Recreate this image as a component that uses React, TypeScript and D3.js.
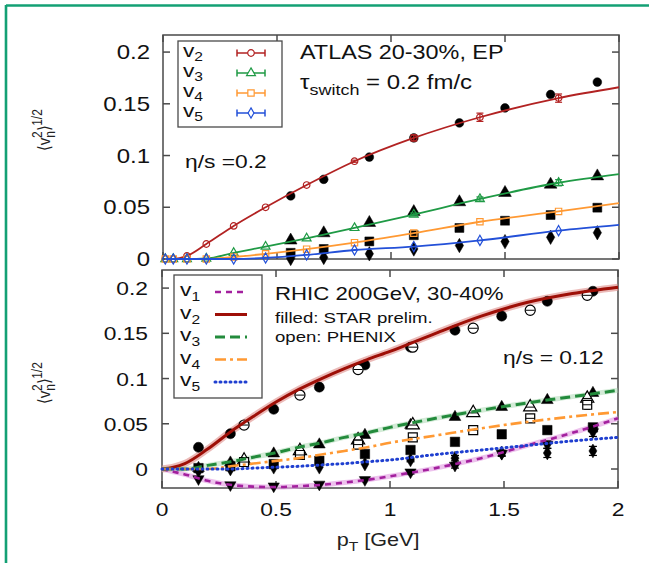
import React from 'react';
import * as d3 from 'd3';

// ---------- ticks ----------
const xTicks = [0, 0.5, 1, 1.5, 2];
const xTickLabels = ['0', '0.5', '1', '1.5', '2'];
const yTicks = [0, 0.05, 0.1, 0.15, 0.2];
const yTickLabels = ['0', '0.05', '0.1', '0.15', '0.2'];

// ---------- top panel: hydro (ATLAS comparison) ----------
const hydroPt = [0.01, 0.045, 0.105, 0.19, 0.31, 0.45, 0.63, 0.84, 1.10, 1.39, 1.735, 2.0];
const hydroV2 = [0, 0, 0.003, 0.0145, 0.032, 0.050, 0.0715, 0.0945, 0.117, 0.137, 0.1555, 0.166];
const hydroV3 = [0, 0, 0, 0.0005, 0.006, 0.012, 0.020, 0.030, 0.043, 0.058, 0.0737, 0.082];
const hydroV4 = [0, 0, 0, 0, 0.002, 0.005, 0.0095, 0.0158, 0.025, 0.036, 0.046, 0.054];
const hydroV5 = [0, 0, 0, 0, 0, 0.001, 0.004, 0.0087, 0.012, 0.018, 0.0274, 0.033];
const hydroErrV2 = [0, 0, 0, 0, 0, 0, 0, 0.001, 0.003, 0.004, 0.004, 0];
const hydroErrV3 = [0, 0, 0, 0, 0, 0, 0, 0, 0.0015, 0.002, 0.003, 0];

// ATLAS data (filled black)
const atlasPt = [0.56, 0.705, 0.905, 1.10, 1.30, 1.50, 1.70, 1.905];
const atlasV2 = [0.061, 0.077, 0.0985, 0.117, 0.1315, 0.146, 0.159, 0.171];
const atlasV3 = [0.018, 0.025, 0.035, 0.0455, 0.055, 0.064, 0.072, 0.080];
const atlasV4 = [0.006, 0.0097, 0.017, 0.023, 0.030, 0.037, 0.0425, 0.0496];
const atlasV5 = [0.0005, 0.0015, 0.005, 0.0097, 0.013, 0.0168, 0.021, 0.0254];

// ---------- bottom panel: hydro curves (RHIC) ----------
const curvePt = [0, 0.05, 0.1, 0.2, 0.3, 0.4, 0.5, 0.6, 0.7, 0.8, 0.9, 1.0, 1.2, 1.4, 1.6, 1.8, 2.0];
const curveV1 = [0, -0.003, -0.006, -0.013, -0.0175, -0.0195, -0.020, -0.019, -0.0175, -0.015, -0.012, -0.008, 0.001, 0.012, 0.026, 0.040, 0.056];
const curveV2 = [0, 0.002, 0.006, 0.022, 0.041, 0.058, 0.074, 0.088, 0.100, 0.111, 0.121, 0.130, 0.150, 0.169, 0.184, 0.194, 0.201];
const curveV3 = [0, 0, 0, 0.004, 0.008, 0.013, 0.018, 0.024, 0.029, 0.035, 0.040, 0.046, 0.056, 0.065, 0.073, 0.080, 0.087];
const curveV4 = [0, 0, 0, 0, 0.003, 0.006, 0.009, 0.012, 0.016, 0.020, 0.024, 0.029, 0.037, 0.045, 0.052, 0.058, 0.063];
const curveV5 = [0, 0, 0, 0, 0, 0.001, 0.002, 0.003, 0.0045, 0.006, 0.008, 0.010, 0.016, 0.021, 0.026, 0.031, 0.035];

// STAR prelim. (filled)
const starPt = [0.16, 0.30, 0.49, 0.69, 0.89, 1.09, 1.285, 1.49, 1.69, 1.89];
const starV1 = [-0.011, -0.0177, -0.019, -0.017, -0.012, -0.0035, 0.004, 0.017, 0.027, 0.041];
const starV2 = [0.024, 0.039, 0.066, 0.0905, 0.115, 0.1347, 0.1534, 0.169, 0.1854, 0.1965];
const starV3 = [0.001, 0.007, 0.017, 0.027, 0.0375, 0.0486, 0.0574, 0.0684, 0.0761, 0.0839];
const starV4 = [0.001, 0.003, 0.0055, 0.009, 0.0166, 0.021, 0.030, 0.0384, 0.043, 0.046];
const starV5 = [-0.002, 0.0, 0.002, 0.002, 0.0055, 0.010, 0.012, 0.0177, 0.0177, 0.020];
const starErrV1 = [0, 0, 0, 0, 0, 0.002, 0.003, 0.003, 0.004, 0.005];
const starErrV5 = [0, 0, 0, 0, 0, 0.002, 0.003, 0.003, 0.005, 0.005];

// PHENIX (open)
const phenixPt = [0.36, 0.605, 0.86, 1.10, 1.365, 1.615, 1.865];
const phenixV2 = [0.0486, 0.0817, 0.110, 0.1347, 0.1556, 0.1755, 0.192];
const phenixV3 = [0.0095, 0.020, 0.032, 0.0486, 0.062, 0.0684, 0.078];
const phenixV4 = [0.0077, 0.0155, 0.027, 0.035, 0.043, 0.056, 0.071];
const phenixErrV4 = [0.001, 0.002, 0.002, 0.002, 0.003, 0.004, 0.005];

const topLegend = ['2', '3', '4', '5'];
const botLegend = ['1', '2', '3', '4', '5'];

const SX = 1.2;
const FONT = 'Liberation Sans, Arial, Helvetica, sans-serif';
const AXC = '#4a4a4a';

function T({ x, y, size, anchor = 'start', children, fill = '#111' }: any) {
  return (
    <text transform={`translate(${x},${y}) scale(${SX},1)`} fontSize={size} textAnchor={anchor}
      fontFamily={FONT} fill={fill}>{children}</text>
  );
}

function sym(type: string, size: number) {
  const map: any = {
    circle: d3.symbolCircle, triangle: d3.symbolTriangle, square: d3.symbolSquare,
    diamond: d3.symbolDiamond, itri: d3.symbolTriangle,
  };
  return d3.symbol().type(map[type]).size(size)() as string;
}

function Mark({ type, x, y, size, fill, stroke, sw = 1.2, bar = false }: any) {
  const rot = type === 'itri' ? 180 : 0;
  const half = Math.sqrt(size) / 2;
  return (
    <g transform={`translate(${x},${y})`}>
      <path d={sym(type, size)} transform={`rotate(${rot})`} fill={fill} stroke={stroke} strokeWidth={sw} />
      {bar && <line x1={-half} x2={half} y1={0} y2={0} stroke={stroke} strokeWidth={1} />}
    </g>
  );
}

function ErrBar({ x, y0, y1, color, w = 3.5, sw = 1.2 }: any) {
  return (
    <g stroke={color} strokeWidth={sw}>
      <line x1={x} x2={x} y1={y0} y2={y1} />
      <line x1={x - w} x2={x + w} y1={y0} y2={y0} />
      <line x1={x - w} x2={x + w} y1={y1} y2={y1} />
    </g>
  );
}

function Frame({ x0, x1, y0, y1, xs, ys }: any) {
  const tl = 7;
  return (
    <g stroke={AXC} strokeWidth={1.5} fill="none">
      <rect x={x0} y={y1} width={x1 - x0} height={y0 - y1} />
      {xTicks.map((t, i) => (
        <g key={'x' + i}>
          <line x1={xs(t)} x2={xs(t)} y1={y0} y2={y0 - tl} />
          <line x1={xs(t)} x2={xs(t)} y1={y1} y2={y1 + tl} />
        </g>
      ))}
      {yTicks.map((t, i) => (
        <g key={'y' + i}>
          <line x1={x0} x2={x0 + tl} y1={ys(t)} y2={ys(t)} />
          <line x1={x1} x2={x1 - tl} y1={ys(t)} y2={ys(t)} />
        </g>
      ))}
    </g>
  );
}

function YTitle({ cx, cy }: any) {
  return (
    <text transform={`translate(${cx},${cy}) rotate(-90) scale(1,1.15)`} textAnchor="middle"
      fontFamily={FONT} fontSize={15} fill="#222">
      <tspan>⟨v</tspan>
      <tspan fontSize={12} dy={4}>n</tspan>
      <tspan fontSize={12} dy={-11} dx={-7}>2</tspan>
      <tspan dy={7}>⟩</tspan>
      <tspan fontSize={12} dy={-7}>1/2</tspan>
    </text>
  );
}

export default function App() {
  // top panel scales
  const xt = d3.scaleLinear().domain([0, 2]).range([163, 619]);
  const yt = d3.scaleLinear().domain([0, 0.2165]).range([259, 35]);
  // bottom panel scales
  const xb = d3.scaleLinear().domain([0, 2]).range([162, 618]);
  const yb = d3.scaleLinear().domain([-0.021, 0.22]).range([488, 270]);

  const lineT = (vals: number[]) =>
    d3.line<number>().x((_, i) => xt(hydroPt[i])).y((v) => yt(v)).curve(d3.curveMonotoneX)(vals) as string;
  const lineB = (vals: number[]) =>
    d3.line<number>().x((_, i) => xb(curvePt[i])).y((v) => yb(v)).curve(d3.curveMonotoneX)(vals) as string;

  const hydro = [
    { v: hydroV2, c: '#b22222', t: 'circle', s: 34, err: hydroErrV2 },
    { v: hydroV3, c: '#1f9a45', t: 'triangle', s: 34, err: hydroErrV3 },
    { v: hydroV4, c: '#ff9933', t: 'square', s: 40, err: null },
    { v: hydroV5, c: '#2350d8', t: 'diamond', s: 30, err: null },
  ];
  const atlas = [
    { v: atlasV2, t: 'circle', s: 60 },
    { v: atlasV3, t: 'triangle', s: 70 },
    { v: atlasV4, t: 'square', s: 80 },
    { v: atlasV5, t: 'diamond', s: 60 },
  ];

  const curves = [
    { v: curveV1, c: '#a3209e', w: 2.6, dash: '6,5', band: '#e6a8e6', bw: 5, op: 0.7 },
    { v: curveV2, c: '#9e0f07', w: 3, dash: null, band: '#dd8c88', bw: 7, op: 0.6 },
    { v: curveV3, c: '#238b3c', w: 3, dash: '10,5', band: '#a8d8b0', bw: 5, op: 0.5 },
    { v: curveV4, c: '#ff9933', w: 2.6, dash: '11,4,3,4', band: null, bw: 0, op: 0 },
    { v: curveV5, c: '#1f3fd0', w: 3, dash: '1,4', band: null, bw: 0, op: 0 },
  ];

  return (
    <svg width={649} height={563} style={{ position: 'absolute', left: 0, top: 0, background: '#fff' }}>
      <rect x={0} y={0} width={649} height={563} fill="#fff" />
      {/* green slide frame */}
      <line x1={6} x2={649} y1={5.5} y2={5.5} stroke="#13a074" strokeWidth={2.6} />
      <line x1={6} x2={6} y1={5} y2={563} stroke="#13a074" strokeWidth={2.6} />

      {/* ======== TOP PANEL ======== */}
      <Frame x0={163} x1={619} y0={259} y1={35} xs={xt} ys={yt} />
      {yTicks.map((t, i) => (
        <T key={'ytl' + i} x={150} y={yt(t) + 7} size={20} anchor="end">{yTickLabels[i]}</T>
      ))}
      <YTitle cx={50} cy={130} />

      {/* ATLAS data */}
      {atlas.map((s, k) => s.v.map((v, i) => (
        <Mark key={`a${k}-${i}`} type={s.t} x={xt(atlasPt[i])} y={yt(v)} size={s.s} fill="#000" stroke="#000" sw={0.5} />
      )))}
      {/* hydro lines + open points */}
      {hydro.map((h, k) => (
        <g key={'h' + k}>
          <path d={lineT(h.v)} fill="none" stroke={h.c} strokeWidth={1.8} />
          {h.v.slice(0, hydroPt.length - 1).map((v, i) => (
            <g key={i}>
              {h.err && h.err[i] > 0 && (
                <ErrBar x={xt(hydroPt[i])} y0={yt(v - h.err[i])} y1={yt(v + h.err[i])} color={h.c} w={3.5} />
              )}
              <Mark type={h.t} x={xt(hydroPt[i])} y={yt(v)} size={h.s} fill="none" stroke={h.c} sw={1.2} />
            </g>
          ))}
        </g>
      ))}

      {/* top legend */}
      <rect x={178} y={41} width={104} height={86} fill="#fff" stroke={AXC} strokeWidth={1.3} />
      {hydro.map((h, k) => {
        const cy = 53 + k * 20;
        return (
          <g key={'tl' + k}>
            <text transform={`translate(183,${cy + 4}) scale(1.3,1)`} fontFamily={FONT} fontSize={17.5} fill="#111">
              v<tspan fontSize={12} dy={4}>{topLegend[k]}</tspan>
            </text>
            <line x1={237} x2={265} y1={cy} y2={cy} stroke={h.c} strokeWidth={1.5} />
            <line x1={237} x2={237} y1={cy - 3.5} y2={cy + 3.5} stroke={h.c} strokeWidth={1.5} />
            <line x1={265} x2={265} y1={cy - 3.5} y2={cy + 3.5} stroke={h.c} strokeWidth={1.5} />
            <Mark type={h.t} x={251} y={cy} size={h.s} fill="#fff" stroke={h.c} sw={1.2} />
          </g>
        );
      })}
      <T x={300} y={59} size={19.5}>ATLAS 20-30%, EP</T>
      <text transform={`translate(300,89) scale(${SX},1)`} fontFamily={FONT} fontSize={20} fill="#111">
        τ<tspan fontSize={15} dy={6}>switch</tspan><tspan dy={-6}> = 0.2 fm/c</tspan>
      </text>
      <T x={185} y={168} size={19}>η/s =0.2</T>

      {/* ======== BOTTOM PANEL ======== */}
      <Frame x0={162} x1={618} y0={488} y1={270} xs={xb} ys={yb} />
      {yTicks.map((t, i) => (
        <T key={'ybl' + i} x={148} y={yb(t) + 7} size={19} anchor="end">{yTickLabels[i]}</T>
      ))}
      {xTicks.map((t, i) => (
        <T key={'xbl' + i} x={xb(t)} y={516} size={19} anchor="middle">{xTickLabels[i]}</T>
      ))}
      <YTitle cx={50} cy={383} />
      <text transform={`translate(378,546) scale(${SX},1)`} textAnchor="middle" fontFamily={FONT} fontSize={18} fill="#222">
        p<tspan fontSize={13} dy={5}>T</tspan><tspan dy={-5}> [GeV]</tspan>
      </text>

      {/* bands */}
      {curves.map((c, k) => c.band && (
        <path key={'bd' + k} d={lineB(c.v)} fill="none" stroke={c.band} strokeWidth={c.bw} opacity={c.op} />
      ))}
      {/* STAR data */}
      {starPt.map((p, i) => (
        <g key={'s' + i}>
          {starErrV1[i] > 0 && <ErrBar x={xb(p)} y0={yb(starV1[i] - starErrV1[i])} y1={yb(starV1[i] + starErrV1[i])} color="#000" w={4} />}
          {starErrV5[i] > 0 && <ErrBar x={xb(p)} y0={yb(starV5[i] - starErrV5[i])} y1={yb(starV5[i] + starErrV5[i])} color="#000" w={4} />}
          <Mark type="itri" x={xb(p)} y={yb(starV1[i])} size={55} fill="#000" stroke="#000" sw={0.5} />
          <Mark type="circle" x={xb(p)} y={yb(starV2[i])} size={80} fill="#000" stroke="#000" sw={0.5} />
          <Mark type="triangle" x={xb(p)} y={yb(starV3[i])} size={60} fill="#000" stroke="#000" sw={0.5} />
          <Mark type="square" x={xb(p)} y={yb(starV4[i])} size={90} fill="#000" stroke="#000" sw={0.5} />
          <Mark type="diamond" x={xb(p)} y={yb(starV5[i])} size={55} fill="#000" stroke="#000" sw={0.5} />
        </g>
      ))}
      {/* PHENIX data */}
      {phenixPt.map((p, i) => (
        <g key={'p' + i}>
          <ErrBar x={xb(p)} y0={yb(phenixV4[i] - phenixErrV4[i])} y1={yb(phenixV4[i] + phenixErrV4[i])} color="#000" w={3} />
          <Mark type="circle" x={xb(p)} y={yb(phenixV2[i])} size={80} fill="#fff" stroke="#000" sw={1.2} bar />
          <Mark type="triangle" x={xb(p)} y={yb(phenixV3[i])} size={75} fill="#fff" stroke="#000" sw={1.2} bar />
          <Mark type="square" x={xb(p)} y={yb(phenixV4[i])} size={80} fill="#fff" stroke="#000" sw={1.2} bar />
        </g>
      ))}
      {/* curves */}
      {curves.map((c, k) => (
        <path key={'c' + k} d={lineB(c.v)} fill="none" stroke={c.c} strokeWidth={c.w}
          strokeDasharray={c.dash || undefined} strokeLinecap={k === 4 ? 'round' : 'butt'} />
      ))}

      {/* bottom legend */}
      <rect x={174} y={275} width={88} height={123} fill="#fff" stroke={AXC} strokeWidth={1.3} />
      {curves.map((c, k) => {
        const cy = 292 + k * 22.5;
        return (
          <g key={'bl' + k}>
            <text transform={`translate(180,${cy + 4}) scale(${SX},1)`} fontFamily={FONT} fontSize={19} fill="#111">
              v<tspan fontSize={13} dy={5}>{botLegend[k]}</tspan>
            </text>
            <line x1={215} x2={247} y1={cy} y2={cy} stroke={c.c} strokeWidth={c.w}
              strokeDasharray={c.dash || undefined} strokeLinecap={k === 4 ? 'round' : 'butt'} />
          </g>
        );
      })}
      <T x={275} y={300} size={18.5}>RHIC 200GeV, 30-40%</T>
      <T x={275} y={323} size={15.5}>filled: STAR prelim.</T>
      <T x={275} y={342} size={15.5}>open: PHENIX</T>
      <T x={503} y={364} size={19}>η/s = 0.12</T>
    </svg>
  );
}
